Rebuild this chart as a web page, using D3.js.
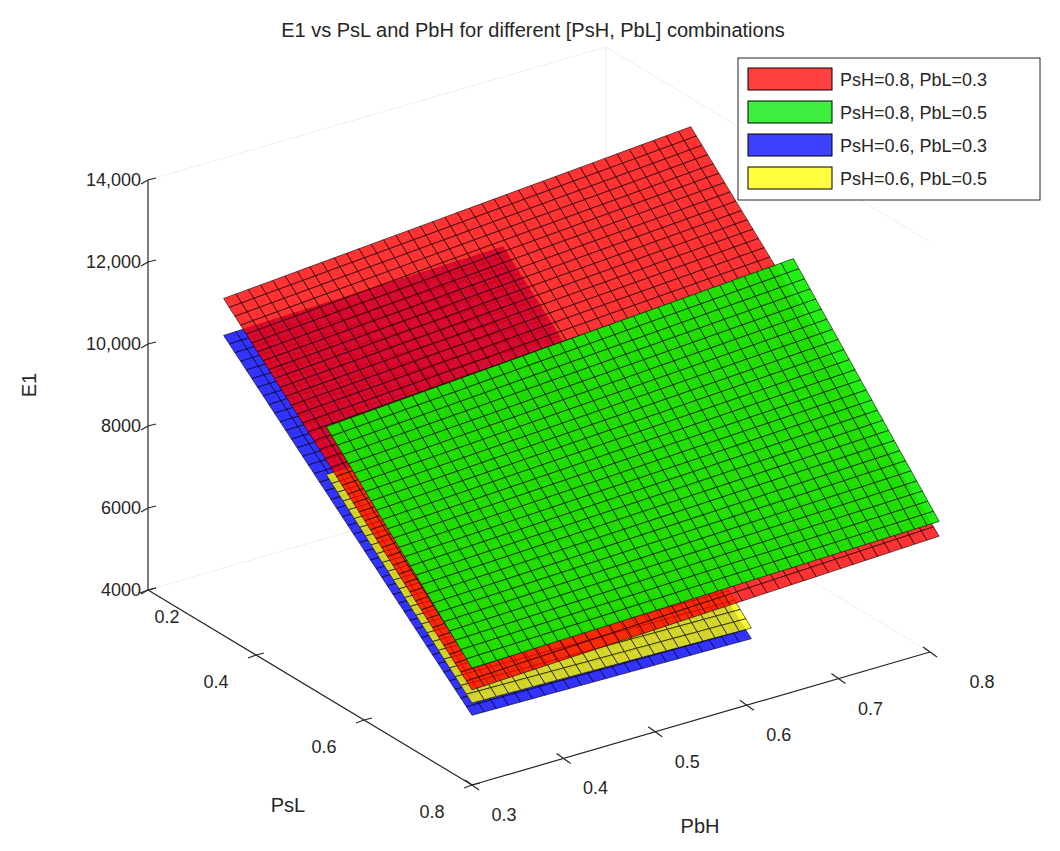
<!DOCTYPE html>
<html>
<head>
<meta charset="utf-8">
<script src="https://cdn.jsdelivr.net/npm/d3@7"></script>
<style>
  body { margin: 0; background: #fff; }
  text { font-family: "Liberation Sans", Arial, sans-serif; fill: #262626; }
</style>
</head>
<body>
<div id="chart"></div>
<script>
// surfaces: name, color, PsL range, PbH range, E1 at corners [PsLmin/PbHmin, PsLmin/PbHmax, PsLmax/PbHmin, PsLmax/PbHmax]
const seriesNames = ["PsH=0.8, PbL=0.3", "PsH=0.8, PbL=0.5", "PsH=0.6, PbL=0.3", "PsH=0.6, PbL=0.5"];
const seriesColors = ["#ff0000", "#11ee00", "#0000ff", "#ffff00"];
const seriesAlpha = [0.8, 0.92, 0.8, 0.8];
const pslRanges = [[0.34, 0.8], [0.53, 0.8], [0.34, 0.8], [0.53, 0.8]];
const pbhRanges = [[0.3, 0.81], [0.3, 0.81], [0.3, 0.605], [0.3, 0.605]];
const cornerE1 = [
    [12220, 13100, 6320, 6760],
    [10600, 11390, 6850, 7120],
    [11320, 11500, 5700, 5590],
    [9430, 9600, 6000, 5850]
];
const pslTicks = [0.2, 0.4, 0.6, 0.8];
const pbhTicks = [0.3, 0.4, 0.5, 0.6, 0.7, 0.8];
const e1Ticks = [4000, 6000, 8000, 10000, 12000, 14000];
const pslStep = 0.0105, pbhStep = 0.0135;

const W = 1060, H = 851;
const svg = d3.select("#chart").append("svg").attr("width", W).attr("height", H);

// axis scales to normalised box coordinates
const sA = d3.scaleLinear().domain([0.2, 0.8]).range([0, 1]);
const sB = d3.scaleLinear().domain([0.3, 0.8]).range([0, 1]);
const sZ = d3.scaleLinear().domain([4000, 14000]).range([0, 1]);

// affine projection of the box
const origin = [148, 590];
const vA = [324, 195], vB = [458, -133], vZ = [0, -410];
function proj(psl, pbh, e1) {
    const a = sA(psl), b = sB(pbh), z = sZ(e1);
    return [origin[0] + a * vA[0] + b * vB[0] + z * vZ[0],
            origin[1] + a * vA[1] + b * vB[1] + z * vZ[1]];
}
// toward-viewer direction (null space of projection)
const viewDir = [-(vB[0] * vZ[1]), vA[0] * vZ[1], -(vA[0] * vB[1] - vB[0] * vA[1])];
function depth(psl, pbh, e1) {
    return sA(psl) * viewDir[0] + sB(pbh) * viewDir[1] + sZ(e1) * viewDir[2];
}

// faint back box lines
const box = svg.append("g").attr("stroke", "#eeeeee").attr("fill", "none").attr("stroke-width", 1);
const boxEdges = [
    [[0.2, 0.3, 4000], [0.2, 0.8, 4000]],
    [[0.2, 0.8, 4000], [0.8, 0.8, 4000]],
    [[0.2, 0.8, 4000], [0.2, 0.8, 14000]],
    [[0.2, 0.3, 14000], [0.2, 0.8, 14000]],
    [[0.2, 0.8, 14000], [0.8, 0.8, 14000]]
];
boxEdges.forEach(e => {
    const p = proj(...e[0]), q = proj(...e[1]);
    box.append("line").attr("x1", p[0]).attr("y1", p[1]).attr("x2", q[0]).attr("y2", q[1]);
});

// build quads
const quads = [];
seriesNames.forEach((name, si) => {
    const [a0, a1] = pslRanges[si], [b0, b1] = pbhRanges[si];
    const c = cornerE1[si];
    const na = Math.round((a1 - a0) / pslStep), nb = Math.round((b1 - b0) / pbhStep);
    const val = (i, j) => {
        const u = i / na, v = j / nb;
        return (c[0] * (1 - v) + c[1] * v) * (1 - u) + (c[2] * (1 - v) + c[3] * v) * u;
    };
    const pa = i => a0 + (a1 - a0) * i / na, pb = j => b0 + (b1 - b0) * j / nb;
    for (let i = 0; i < na; i++) {
        for (let j = 0; j < nb; j++) {
            const pts = [[i, j], [i + 1, j], [i + 1, j + 1], [i, j + 1]]
                .map(([ii, jj]) => [pa(ii), pb(jj), val(ii, jj)]);
            const m = pts.reduce((s, p) => [s[0] + p[0] / 4, s[1] + p[1] / 4, s[2] + p[2] / 4], [0, 0, 0]);
            quads.push({ si, pts: pts.map(p => proj(...p)), d: depth(...m) });
        }
    }
});
quads.sort((p, q) => p.d - q.d);

svg.append("g").selectAll("path")
    .data(quads)
    .enter().append("path")
    .attr("d", q => "M" + q.pts.map(p => p.join(",")).join("L") + "Z")
    .attr("fill", q => seriesColors[q.si])
    .attr("fill-opacity", q => seriesAlpha[q.si])
    .attr("stroke", "#000")
    .attr("stroke-opacity", 0.65)
    .attr("stroke-width", 0.9);

// axes
const axisG = svg.append("g").attr("stroke", "#262626").attr("stroke-width", 1.2).attr("fill", "none");
function seg(p, q) { axisG.append("line").attr("x1", p[0]).attr("y1", p[1]).attr("x2", q[0]).attr("y2", q[1]); }

// E1 axis
seg(proj(0.2, 0.3, 4000), proj(0.2, 0.3, 14000));
e1Ticks.forEach(t => {
    const p = proj(0.2, 0.3, t);
    seg(p, [p[0] + 8, p[1] - 2]);
    seg(p, [p[0] - 7, p[1] + 4]);
    svg.append("text").attr("x", p[0] - 7).attr("y", p[1] + 6).attr("text-anchor", "end")
        .attr("font-size", 18).text(t >= 10000 ? d3.format(",")(t) : t);
});
svg.append("text").attr("transform", "translate(36,385) rotate(-90)").attr("text-anchor", "middle")
    .attr("font-size", 20).text("E1");

// PsL axis
seg(proj(0.2, 0.3, 4000), proj(0.8, 0.3, 4000));
pslTicks.forEach(t => {
    const p = proj(t, 0.3, 4000);
    seg(p, [p[0] + 8, p[1] - 2]);
    seg(p, [p[0] - 8, p[1] + 3]);
    svg.append("text").attr("x", Math.max(p[0] - 40, 167)).attr("y", p[1] + 33).attr("text-anchor", "middle")
        .attr("font-size", 18).text(t);
});
svg.append("text").attr("x", 288).attr("y", 812).attr("text-anchor", "middle").attr("font-size", 20).text("PsL");

// PbH axis
seg(proj(0.8, 0.3, 4000), proj(0.8, 0.8, 4000));
pbhTicks.forEach(t => {
    const p = proj(0.8, t, 4000);
    seg(p, [p[0] - 7, p[1] - 5]);
    seg(p, [p[0] + 7, p[1] + 5]);
    svg.append("text").attr("x", p[0] + 32 + (t === 0.8 ? 20 : 0)).attr("y", p[1] + 36).attr("text-anchor", "middle")
        .attr("font-size", 18).text(t);
});
svg.append("text").attr("x", 700).attr("y", 833).attr("text-anchor", "middle").attr("font-size", 20).text("PbH");

// title
svg.append("text").attr("x", 533).attr("y", 37).attr("text-anchor", "middle").attr("font-size", 20)
    .text("E1 vs PsL and PbH for different [PsH, PbL] combinations");

// legend
const lg = svg.append("g").attr("transform", "translate(738,58)");
lg.append("rect").attr("width", 302).attr("height", 142).attr("fill", "#fff").attr("stroke", "#262626");
const legendColors = ["#ff4040", "#40ee40", "#4040ff", "#ffff40"];
seriesNames.forEach((n, i) => {
    lg.append("rect").attr("x", 10).attr("y", 10 + i * 33).attr("width", 84).attr("height", 22)
        .attr("fill", legendColors[i]).attr("stroke", "#000");
    lg.append("text").attr("x", 102).attr("y", 28 + i * 33).attr("font-size", 18).text(n);
});
</script>
</body>
</html>
